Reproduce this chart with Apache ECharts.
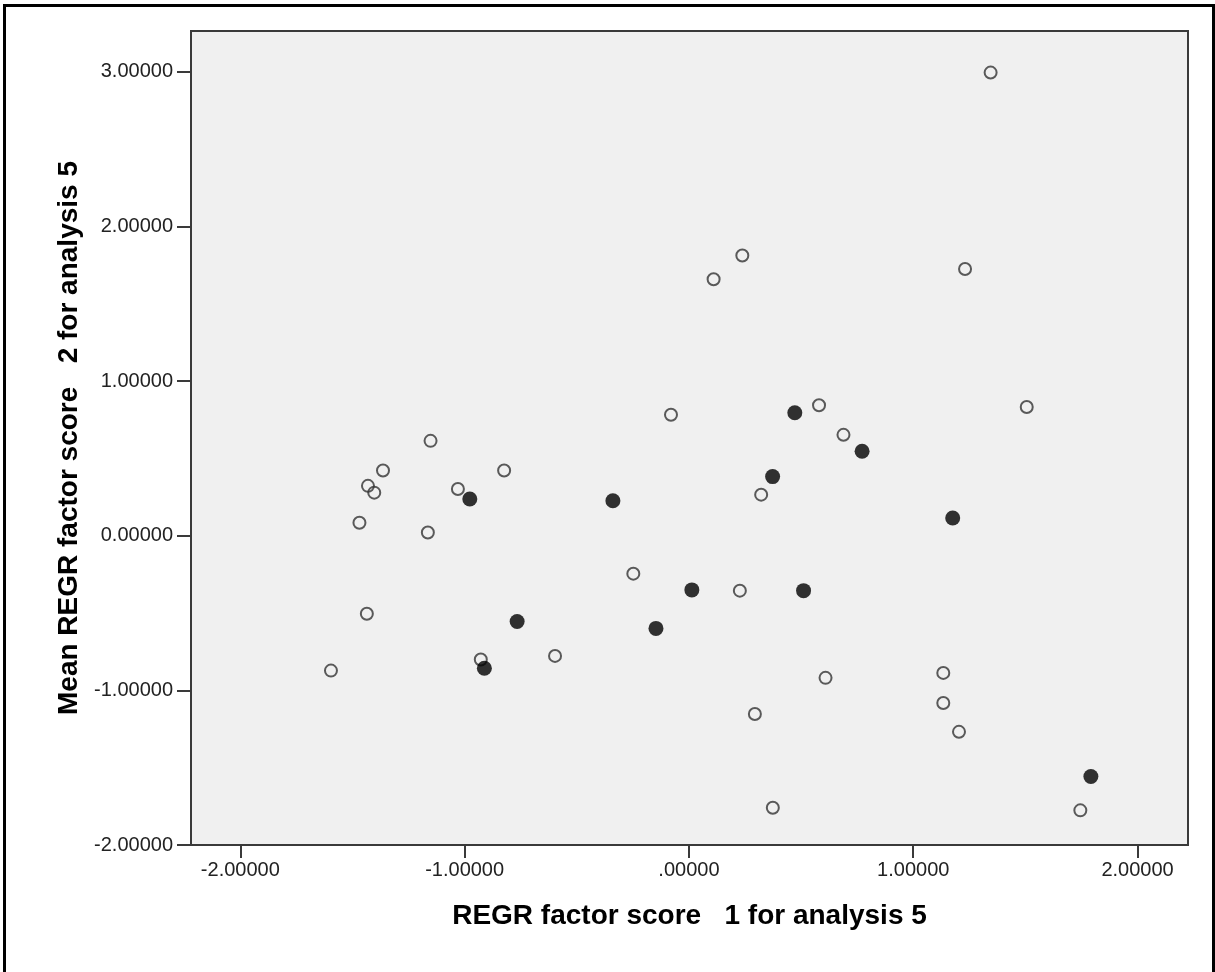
<!DOCTYPE html>
<html>
<head>
<meta charset="utf-8">
<title>REGR factor scores</title>
<script src="https://cdn.jsdelivr.net/npm/echarts@6/dist/echarts.min.js"></script>
<style>
  html, body { margin: 0; padding: 0; background: #fff; overflow: hidden; }
  .frame {
    position: absolute; left: 3px; top: 4px;
    width: 1206px; height: 1000px;
    border: 3px solid #000;
  }
  #chart { position: absolute; left: 0; top: 0; width: 1215px; height: 972px; }
</style>
</head>
<body>
<div class="frame"></div>
<div id="chart"></div>
<script>
// open circles
const openX = [1.345, 0.238, 1.231, 0.110, 0.580, 1.506, -0.080, -1.152, 0.689, -1.364,
  -0.824, -1.431, -1.403, -1.030, 0.322, -1.469, -1.164, -0.248, 0.227, -1.436,
  -1.596, -0.928, -0.597, 1.134, 0.609, 1.134, 0.294, 1.204, 0.374, 1.745]
const openY = [2.996, 1.813, 1.726, 1.659, 0.844, 0.833, 0.783, 0.614, 0.653, 0.422,
  0.422, 0.323, 0.279, 0.303, 0.266, 0.084, 0.021, -0.245, -0.355, -0.504,
  -0.872, -0.800, -0.777, -0.887, -0.919, -1.082, -1.153, -1.268, -1.759, -1.776]

// filled dots
const filledX = [-0.977, -0.339, 0.472, 0.772, 0.373, 1.176, 0.013, 0.511, -0.766, -0.147, -0.912, 1.792]
const filledY = [0.238, 0.227, 0.796, 0.547, 0.383, 0.115, -0.350, -0.355, -0.554, -0.599, -0.857, -1.557]

const xTicks = [-2, -1, 0, 1, 2]
const yTicks = [-2, -1, 0, 1, 2, 3]

const zip = (xs, ys) => xs.map((x, i) => [x, ys[i]])

function fmtX(v) {
  const s = v.toFixed(5)
  return v === 0 ? s.slice(1) : s
}

const chart = echarts.init(document.getElementById('chart'))
chart.setOption({
  animation: false,
  textStyle: { fontFamily: 'Liberation Sans, Arial, sans-serif' },
  grid: {
    left: 191, right: 27, top: 31, bottom: 127,
    show: true,
    backgroundColor: '#f0f0f0',
    borderColor: '#3a3a3a',
    borderWidth: 2,
    containLabel: false,
    outerBoundsMode: 'none'
  },
  xAxis: {
    type: 'value',
    min: -2.22,
    max: 2.225,
    name: 'REGR factor score   1 for analysis 5',
    nameLocation: 'middle',
    nameGap: 57,
    nameTextStyle: { fontSize: 28, fontWeight: 'bold', color: '#000' },
    axisLine: { show: true, onZero: false, lineStyle: { color: '#3a3a3a', width: 2 } },
    axisTick: { show: true, length: 13, customValues: xTicks, lineStyle: { color: '#3a3a3a', width: 2 } },
    axisLabel: { customValues: xTicks, margin: 15, fontSize: 20, color: '#222', formatter: fmtX },
    splitLine: { show: false }
  },
  yAxis: {
    type: 'value',
    min: -2,
    max: 3.265,
    name: 'Mean REGR factor score   2 for analysis 5',
    nameLocation: 'middle',
    nameRotate: 90,
    nameGap: 97,
    nameTextStyle: { fontSize: 28, fontWeight: 'bold', color: '#000' },
    axisLine: { show: true, onZero: false, lineStyle: { color: '#3a3a3a', width: 2 } },
    axisTick: { show: true, length: 14, customValues: yTicks, lineStyle: { color: '#3a3a3a', width: 2 } },
    axisLabel: { customValues: yTicks, margin: 18, fontSize: 20, color: '#222', formatter: (v) => v.toFixed(5) },
    splitLine: { show: false }
  },
  series: [
    {
      name: 'open',
      type: 'scatter',
      data: zip(openX, openY),
      symbol: 'circle',
      symbolSize: 12,
      itemStyle: { color: 'rgba(0,0,0,0)', borderColor: '#333', borderWidth: 2 }
    },
    {
      name: 'filled',
      type: 'scatter',
      data: zip(filledX, filledY),
      symbol: 'circle',
      symbolSize: 15,
      itemStyle: { color: '#000' }
    }
  ]
})
</script>
</body>
</html>
